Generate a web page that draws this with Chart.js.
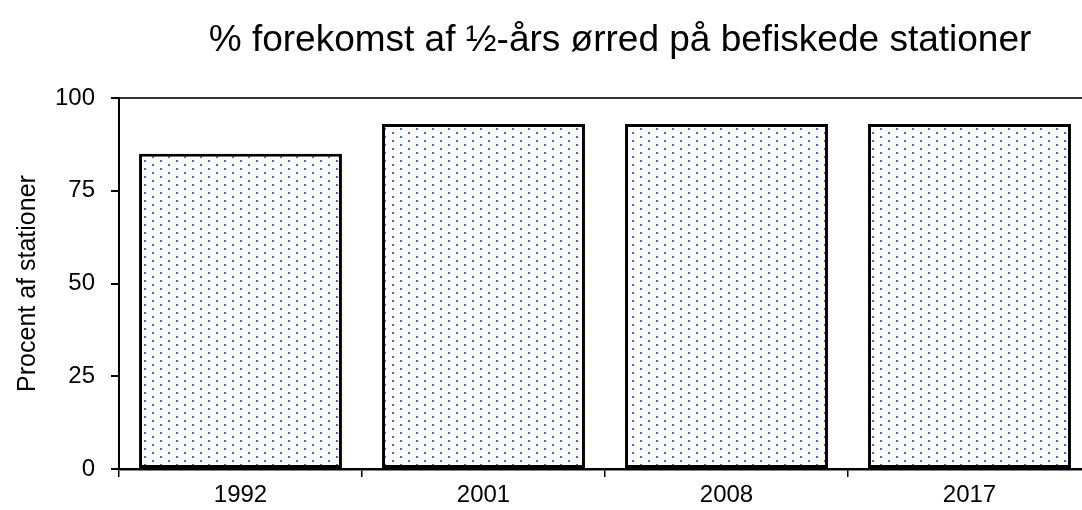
<!DOCTYPE html>
<html>
<head>
<meta charset="utf-8">
<script src="https://cdn.jsdelivr.net/npm/chart.js@4/dist/chart.umd.min.js"></script>
<style>
  html, body { margin: 0; padding: 0; background: #fff; overflow: hidden; }
  #wrap { width: 1110px; height: 510px; }
</style>
</head>
<body>
<div id="wrap"><canvas id="chart" width="1110" height="510"></canvas></div>
<script>
const years = ["1992", "2001", "2008", "2017"];
const pctStations = [85, 93, 93, 93];
const yTicks = [0, 25, 50, 75, 100];

const chartTitle = "% forekomst af ½-års ørred på befiskede stationer";
const yTitle = "Procent af stationer";
const fontFamily = "'Liberation Sans', Arial, sans-serif";

// dotted fill like the old spreadsheet pattern
function dotPattern() {
  const c = document.createElement("canvas");
  c.width = 16;
  c.height = 8;
  const g = c.getContext("2d");
  g.fillStyle = "#fff";
  g.fillRect(0, 0, 16, 8);
  g.fillStyle = "#3c64ff";
  g.fillRect(0, 0, 2, 2);
  g.fillRect(8, 4, 2, 2);
  return g.createPattern(c, "repeat");
}

const titlePlugin = {
  id: "sheetTitle",
  afterDraw(chart) {
    const ctx = chart.ctx;
    ctx.save();
    ctx.font = "37px " + fontFamily;
    ctx.fillStyle = "#000";
    ctx.textAlign = "center";
    ctx.textBaseline = "alphabetic";
    ctx.fillText(chartTitle, 620, 51);
    ctx.restore();
  }
};

const ctx = document.getElementById("chart").getContext("2d");

new Chart(ctx, {
  type: "bar",
  data: {
    labels: years,
    datasets: [{
      data: pctStations,
      backgroundColor: dotPattern(),
      borderColor: "#000",
      borderWidth: 3,
      borderSkipped: false,
      categoryPercentage: 1,
      barPercentage: 0.835
    }]
  },
  options: {
    responsive: false,
    animation: false,
    layout: { padding: { top: 98, right: 19, bottom: 0, left: 0 } },
    plugins: {
      legend: { display: false },
      tooltip: { enabled: false }
    },
    scales: {
      x: {
        afterFit: s => { s.height = 41; },
        grid: {
          offset: true,
          drawOnChartArea: false,
          tickLength: 8,
          tickColor: "#000",
          lineWidth: 1.5
        },
        border: { color: "#000", width: 2.5 },
        ticks: {
          color: "#000",
          padding: 4,
          font: { family: fontFamily, size: 24 }
        }
      },
      y: {
        min: 0,
        max: 100,
        afterFit: s => { s.width = 119; },
        afterBuildTicks: s => { s.ticks = yTicks.map(v => ({ value: v })); },
        grid: {
          color: c => (c.tick && c.tick.value === 100 ? "#333" : "rgba(0,0,0,0)"),
          lineWidth: 2,
          tickColor: "#000",
          tickLength: 8
        },
        border: { color: "#000", width: 2 },
        ticks: {
          color: "#000",
          padding: 16,
          font: { family: fontFamily, size: 24 }
        },
        title: {
          display: true,
          text: yTitle,
          color: "#000",
          padding: { top: 13, bottom: 0 },
          font: { family: fontFamily, size: 25 }
        }
      }
    }
  },
  plugins: [titlePlugin]
});
</script>
</body>
</html>
